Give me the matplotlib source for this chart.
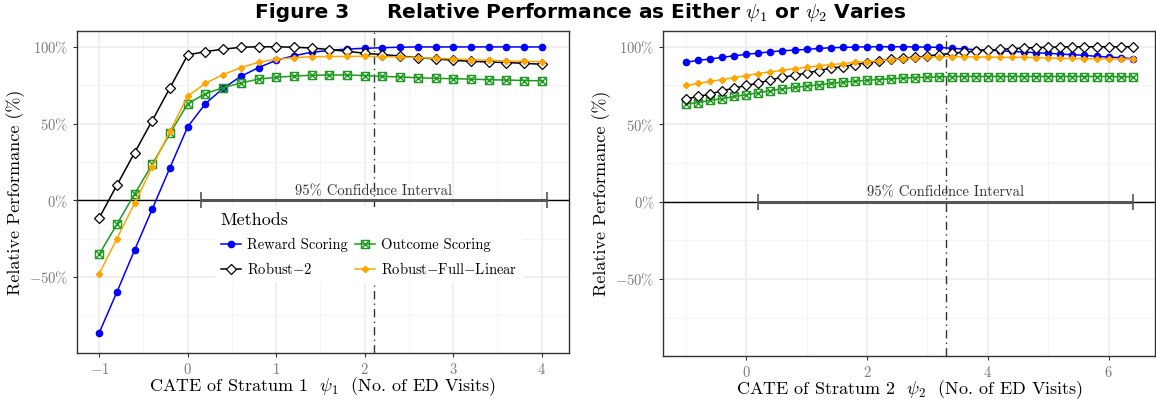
import numpy as np
import matplotlib
matplotlib.use("Agg")
import matplotlib.pyplot as plt
from matplotlib.path import Path

plt.rcParams['font.family'] = 'cmr10'
plt.rcParams['mathtext.fontset'] = 'cm'
plt.rcParams['axes.unicode_minus'] = False

# ---------------- data ----------------
psi1 = [round(-1 + 0.2 * i, 1) for i in range(26)]          # -1 .. 4
reward1 = [-86.5, -59.9, -32.5, -5.7, 21.3, 47.9, 63.0, 73.0, 80.8, 86.5, 91.3, 94.3, 96.5,
           97.7, 98.6, 99.1, 99.5, 99.8, 100, 100, 100, 100, 100, 100, 100, 100]
outcome1 = [-35.3, -15.7, 4.1, 23.5, 43.6, 63.0, 69.5, 73.4, 76.5, 79.0, 80.2, 81.0, 81.5,
            81.7, 81.7, 81.3, 80.8, 80.4, 79.9, 79.5, 79.3, 79.0, 78.6, 78.4, 78.1, 77.9]
robust2_1 = [-11.5, 9.8, 31.0, 52.0, 73.4, 94.8, 97.0, 98.5, 99.8, 100.1, 100.1, 99.8, 99.3,
             98.3, 97.1, 95.9, 95.0, 94.1, 93.0, 92.2, 91.3, 90.6, 90.2, 89.8, 89.3, 88.7]
rfl1 = [-48.1, -25.0, -2.0, 21.8, 45.0, 68.0, 76.2, 82.0, 86.5, 90.0, 92.0, 93.0, 93.6,
        93.8, 93.8, 93.9, 93.7, 93.5, 93.0, 92.6, 92.2, 91.7, 91.3, 90.8, 90.6, 90.4]

psi2 = [round(-1 + 0.2 * i, 1) for i in range(38)]          # -1 .. 6.4
reward2 = [90.0, 91.2, 92.1, 93.2, 94.2, 95.1, 95.9, 96.8, 97.4, 97.9, 98.3, 98.9, 99.4, 99.6,
           99.8, 100, 100, 100, 100, 99.9, 99.8, 99.6, 99.0, 98.6, 98.1, 97.9, 97.4, 97.0,
           96.6, 96.2, 95.8, 95.3, 94.9, 94.5, 93.8, 93.4, 92.9, 92.3]
outcome2 = [63.0, 63.9, 65.4, 66.4, 67.9, 69.0, 70.3, 71.6, 72.9, 73.7, 74.6, 75.4, 76.3, 77.1,
            77.8, 78.4, 78.8, 79.3, 79.7, 80.1, 80.3, 80.6, 80.8, 80.8, 80.8, 80.8, 80.8, 80.8,
            80.8, 80.8, 80.8, 80.8, 80.8, 80.8, 80.8, 80.8, 80.6, 80.6]
robust2_2 = [66.2, 67.9, 69.4, 71.6, 73.3, 75.0, 76.5, 78.6, 80.3, 81.6, 83.1, 84.6, 86.1, 87.2,
             88.5, 89.7, 90.8, 91.9, 92.7, 93.3, 94.0, 95.0, 95.8, 96.5, 97.2, 97.8, 98.3, 98.8,
             99.2, 99.5, 99.7, 99.9, 100, 100, 100, 100, 100, 100]
rfl2 = [75.0, 76.3, 77.6, 78.8, 80.1, 81.4, 82.7, 83.8, 84.8, 85.9, 86.8, 87.6, 88.5, 89.1,
        90.0, 90.4, 91.0, 91.7, 92.3, 92.9, 93.4, 93.4, 93.6, 93.6, 93.4, 93.4, 93.2, 93.2,
        93.2, 93.0, 92.8, 92.5, 92.5, 92.3, 92.3, 92.1, 92.1, 92.1]

ci_center = [2.1, 3.3]
ci_low = [0.15, 0.2]
ci_high = [4.06, 6.41]

method_names = ["Reward Scoring", "Outcome Scoring", "Robust$-$2", "Robust$-$Full$-$Linear"]
yticks = [-50, 0, 50, 100]
ytick_labels = [r"$-50\%$", r"$0\%$", r"$50\%$", r"$100\%$"]
xticks1 = [-1, 0, 1, 2, 3, 4]
xtick_labels1 = [r"$-1$", r"$0$", r"$1$", r"$2$", r"$3$", r"$4$"]
xticks2 = [0, 2, 4, 6]
xtick_labels2 = [r"$0$", r"$2$", r"$4$", r"$6$"]

# ---------------- styles ----------------
sqx = Path([(-1, -1), (1, -1), (1, 1), (-1, 1), (-1, -1), (-1, -1), (1, 1), (-1, 1), (1, -1)],
           [Path.MOVETO, Path.LINETO, Path.LINETO, Path.LINETO, Path.CLOSEPOLY,
            Path.MOVETO, Path.LINETO, Path.MOVETO, Path.LINETO])
styles = [
    dict(color="#0000FF", marker="o", ms=4.5, mfc="#0000FF", mec="#0000FF", lw=1.1),
    dict(color="#1E9A1E", marker=sqx, ms=5.8, mfc="none", mec="#1E9A1E", mew=1.0, lw=1.1),
    dict(color="black", marker="D", ms=5.0, mfc="white", mec="black", mew=0.9, lw=1.1),
    dict(color="#FFA500", marker="D", ms=3.2, mfc="#FFA500", mec="#FFA500", lw=1.1),
]

fig = plt.figure(figsize=(11.56, 4.04), dpi=100)
W, H = 1156, 404
ax1 = fig.add_axes([77 / W, 1 - 352.7 / H, 492 / W, (352.7 - 31) / H])
ax2 = fig.add_axes([663.4 / W, 1 - 355.5 / H, 492 / W, (355.5 - 30.7) / H])

panels = [
    (ax1, psi1, [reward1, outcome1, robust2_1, rfl1], (-1.251, 4.308), xticks1, xtick_labels1,
     [-0.5, 0.5, 1.5, 2.5, 3.5], r"CATE of Stratum 1  $\psi_1$  (No. of ED Visits)"),
    (ax2, psi2, [reward2, outcome2, robust2_2, rfl2], (-1.371, 6.775), xticks2, xtick_labels2,
     [-1, 1, 3, 5], r"CATE of Stratum 2  $\psi_2$  (No. of ED Visits)"),
]

handles = []
for k, (ax, xs, series, xl, xt, xtl, xminor, xlab) in enumerate(panels):
    ax.set_xlim(*xl)
    ax.set_ylim(-99.5, 110.4)
    for v in xt:
        ax.axvline(v, color="#EBEBEB", lw=1.1, zorder=0)
    for v in xminor:
        ax.axvline(v, color="#F4F4F4", lw=0.8, zorder=0)
    for v in yticks:
        ax.axhline(v, color="#EBEBEB", lw=1.1, zorder=0)
    for v in [-75, -25, 25, 75]:
        ax.axhline(v, color="#F4F4F4", lw=0.8, zorder=0)
    ax.axhline(0, color="black", lw=1.0, zorder=1)
    ax.axvline(ci_center[k], color="#333333", lw=1.0, ls=(0, (6, 3, 1, 3)), zorder=1)
    ax.errorbar([ci_center[k]], [0], xerr=[[ci_center[k] - ci_low[k]], [ci_high[k] - ci_center[k]]],
                fmt="none", ecolor="#555555", elinewidth=2.2, capsize=6, capthick=1.2, zorder=2)
    ax.text(ci_center[k], 1.3, "95% Confidence Interval", ha="center", va="bottom",
            fontsize=10.5, color="#333333", zorder=3)
    hs = []
    for ys, st, name in zip(series, styles, method_names):
        h, = ax.plot(xs, ys, label=name, zorder=4, **st)
        hs.append(h)
    if k == 0:
        handles = hs
    ax.set_xticks(xt)
    ax.set_xticklabels(xtl)
    ax.set_yticks(yticks)
    ax.set_yticklabels(ytick_labels)
    ax.tick_params(axis="both", colors="#333333", labelcolor="#7A7A7A", labelsize=10.5,
                   length=3, width=0.8)
    for s in ax.spines.values():
        s.set_color("#333333")
        s.set_linewidth(1.0)
    ax.set_xlabel(xlab, fontsize=13, labelpad=-1)
    ax.set_ylabel("Relative Performance (%)", fontsize=13, labelpad=3)

order = [0, 2, 1, 3]
leg = ax1.legend([handles[i] for i in order], [method_names[i] for i in order],
                 ncol=2, loc="upper left", bbox_to_anchor=(0.265, 0.475),
                 title="Methods", title_fontsize=13, fontsize=10.5, frameon=True,
                 facecolor="white", edgecolor="none", framealpha=1, fancybox=False,
                 handlelength=1.4, handletextpad=0.4, columnspacing=0.5, labelspacing=0.62,
                 borderpad=0.4, alignment="left")
leg.set_zorder(5)

fig.text(255 / W, 1 - 12 / H, "Figure 3", ha="left", va="center", fontsize=14.5,
         fontweight="bold", family=["DejaVu Sans"])
fig.text(386 / W, 1 - 12 / H, r"Relative Performance as Either $\psi_1$ or $\psi_2$ Varies",
         ha="left", va="center", fontsize=14.5, fontweight="bold",
         family=["DejaVu Sans"])

fig.savefig("out.png", dpi=100)
